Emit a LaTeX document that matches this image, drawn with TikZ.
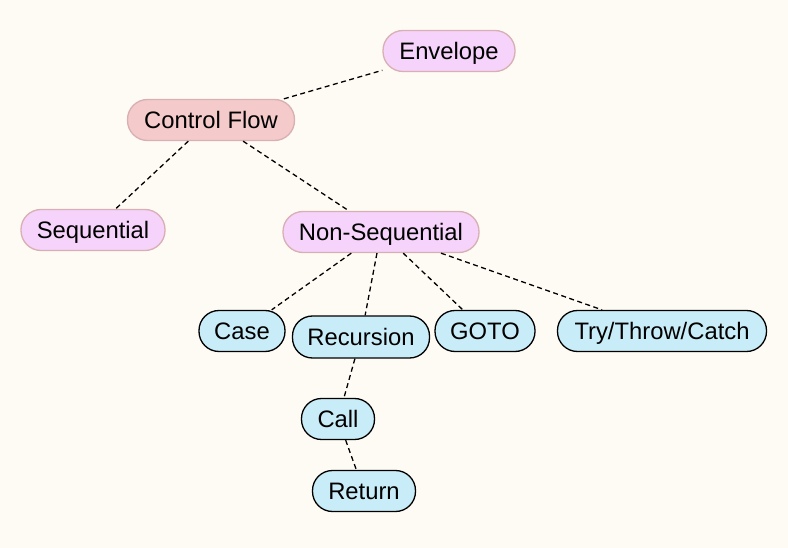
\documentclass[tikz,border=0pt]{standalone}
\usepackage{fontspec}
\setmainfont{Liberation Sans}
\definecolor{bg}{HTML}{FEFBF4}
\definecolor{pinkfill}{HTML}{F5D3FA}
\definecolor{pinkline}{HTML}{D8B0B4}
\definecolor{rootfill}{HTML}{F4CACA}
\definecolor{bluefill}{HTML}{C9EDF8}
\begin{document}
\begin{tikzpicture}[x=1pt,y=-1pt,
  base/.style={rectangle, rounded corners=20pt, minimum height=41pt, inner sep=0pt,
    text height=17pt, text depth=0pt,
    line width=1.3pt, font=\fontsize{23.8}{26}\selectfont},
  pinknode/.style={base, fill=pinkfill, draw=pinkline},
  rootnode/.style={base, fill=rootfill, draw=pinkline},
  bluenode/.style={base, fill=bluefill, draw=black},
  link/.style={line width=1.3pt, dash pattern=on 5pt off 3.5pt}]
\fill[bg] (0,0) rectangle (788,548);
\useasboundingbox (0,0) rectangle (788,548);
\node[pinknode, minimum width=132pt] (env) at (449,51) {Envelope};
\node[rootnode, minimum width=167pt] (cf) at (211,120) {Control Flow};
\node[pinknode, minimum width=144pt] (seq) at (93,230) {Sequential};
\node[pinknode, minimum width=196pt] (nseq) at (381,232) {Non-Sequential};
\node[bluenode, minimum width=86pt] (case) at (242,331) {Case};
\node[bluenode, minimum width=137pt, minimum height=42pt] (rec) at (361,337) {Recursion};
\node[bluenode, minimum width=100pt] (goto) at (485,331) {GOTO};
\node[bluenode, minimum width=209pt] (try) at (662,331) {Try/Throw/Catch};
\node[bluenode, minimum width=73pt] (call) at (338,419) {Call};
\node[bluenode, minimum width=103pt] (ret) at (364,491) {Return};
\draw[link] (cf) -- (env);
\draw[link] (cf) -- (seq);
\draw[link] (cf) -- (nseq);
\draw[link] (nseq) -- (case);
\draw[link] (nseq) -- (rec);
\draw[link] (nseq) -- (goto);
\draw[link] (nseq) -- (try);
\draw[link] (rec) -- (call);
\draw[link] (call) -- (ret);
\end{tikzpicture}
\end{document}
